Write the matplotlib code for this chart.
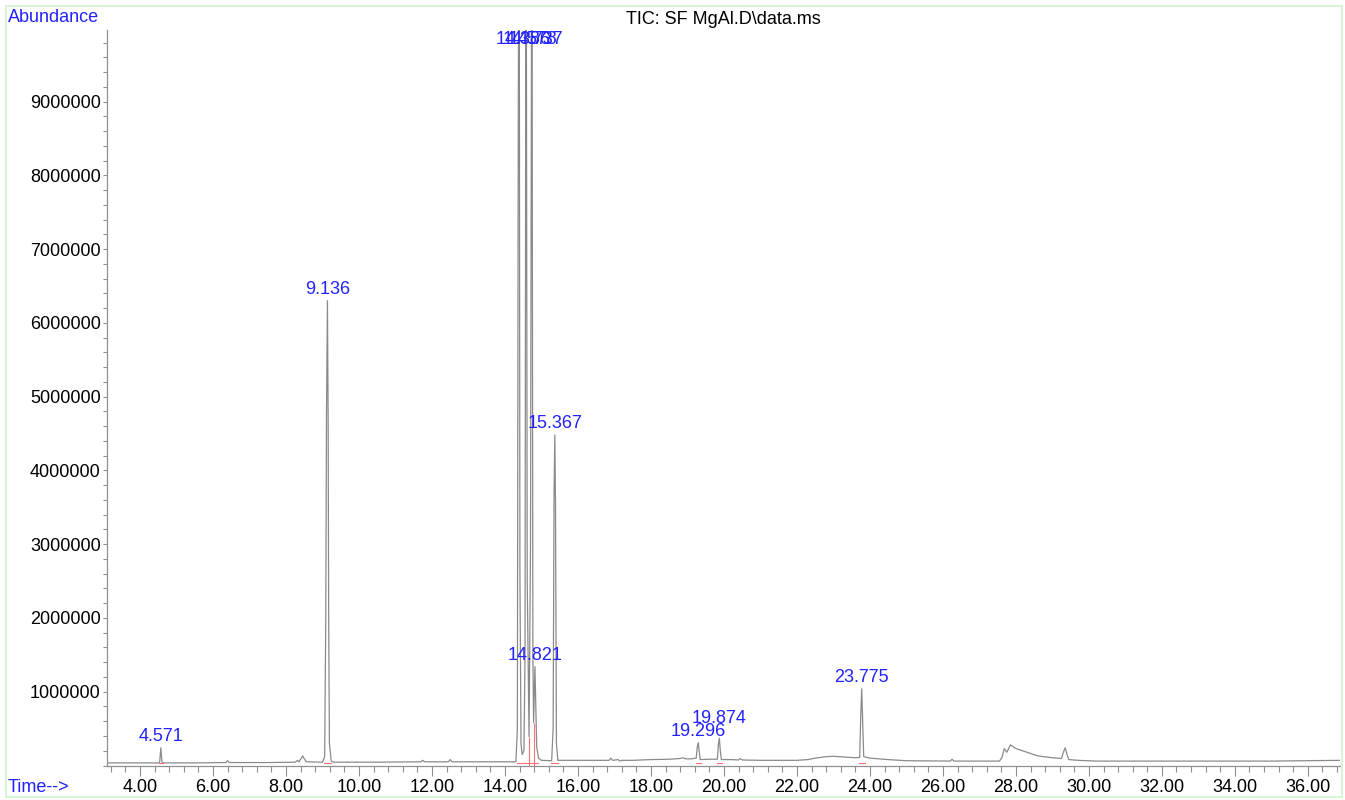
import matplotlib
matplotlib.use("Agg")
import matplotlib.pyplot as plt
from matplotlib.patches import Rectangle
from matplotlib.ticker import MultipleLocator, FixedLocator, FuncFormatter

plt.rcParams['font.family'] = ['Liberation Sans', 'DejaVu Sans']

# TIC trace (minutes, abundance)
times = [3.10, 4.00, 4.50, 4.54, 4.571, 4.60, 4.64, 5.50, 6.35, 6.40, 6.45, 7.50,
         8.25, 8.32, 8.36, 8.42, 8.46, 8.50, 8.56, 9.00, 9.06, 9.09, 9.11, 9.136,
         9.155, 9.17, 9.19, 9.24, 9.30, 10.50, 11.70, 11.75, 11.80, 12.45, 12.50,
         12.55, 13.50, 14.30, 14.34, 14.36, 14.386, 14.41, 14.44, 14.47, 14.52,
         14.55, 14.578, 14.61, 14.66, 14.70, 14.737, 14.765, 14.785, 14.80, 14.821,
         14.84, 14.87, 14.92, 15.00, 15.28, 15.32, 15.345, 15.367, 15.385, 15.41,
         15.45, 16.00, 16.85, 16.90, 16.95, 17.10, 17.15, 17.20, 17.50, 18.00,
         18.50, 18.80, 18.88, 18.95, 19.10, 19.24, 19.27, 19.296, 19.32, 19.35,
         19.60, 19.82, 19.85, 19.874, 19.90, 19.93, 20.20, 20.40, 20.45, 20.50,
         21.00, 21.50, 22.00, 22.30, 22.50, 22.80, 23.00, 23.30, 23.60, 23.72,
         23.75, 23.775, 23.80, 23.83, 24.00, 24.50, 25.00, 26.00, 26.20, 26.25,
         26.30, 27.00, 27.55, 27.62, 27.68, 27.75, 27.85, 28.00, 28.30, 28.60,
         29.00, 29.25, 29.30, 29.35, 29.40, 29.45, 29.70, 30.20, 31.00, 32.00,
         33.00, 34.00, 35.00, 36.00, 36.90]
abundance = [35000, 35000, 35000, 50000, 240000, 50000, 35000, 35000, 40000, 65000,
             40000, 40000, 45000, 70000, 50000, 100000, 130000, 90000, 50000, 45000,
             120000, 2000000, 4750000, 6300000, 4700000, 2000000, 300000, 60000, 45000,
             45000, 50000, 70000, 50000, 50000, 80000, 50000, 50000, 50000, 500000,
             7400000, 13500000, 2600000, 300000, 150000, 200000, 1500000, 13000000,
             2500000, 390000, 3000000, 12500000, 1500000, 580000, 900000, 1340000,
             900000, 250000, 100000, 70000, 65000, 500000, 3700000, 4480000, 3500000,
             300000, 70000, 70000, 70000, 100000, 70000, 80000, 60000, 70000, 70000,
             80000, 85000, 95000, 105000, 90000, 90000, 100000, 250000, 310000, 200000,
             80000, 85000, 85000, 300000, 370000, 200000, 80000, 80000, 75000, 95000,
             75000, 70000, 70000, 70000, 80000, 100000, 120000, 125000, 115000, 105000,
             110000, 700000, 1040000, 600000, 120000, 100000, 80000, 65000, 60000,
             60000, 85000, 60000, 60000, 60000, 110000, 230000, 180000, 280000, 230000,
             180000, 130000, 105000, 95000, 180000, 240000, 150000, 80000, 70000,
             60000, 60000, 60000, 60000, 60000, 60000, 65000, 70000]

# labelled peaks
peak_rt = [4.571, 9.136, 14.386, 14.578, 14.737, 14.821, 15.367, 19.296, 19.874, 23.775]
peak_top = [240000, 6300000, 13500000, 13000000, 12500000, 1340000, 4480000,
            310000, 370000, 1040000]
peak_start = [4.53, 9.05, 14.33, 14.52, 14.66, 14.785, 15.27, 19.23, 19.81, 23.70]
peak_end = [4.63, 9.22, 14.52, 14.66, 14.785, 14.90, 15.44, 19.36, 19.95, 23.86]
drop_rt = [14.66, 14.785]
drop_val = [390000, 580000]

blue = "#2222ff"
fig = plt.figure(figsize=(13.45, 8.0), dpi=100)
ax = fig.add_axes([107/1345, 1-765.5/800, 1233/1345, 735.5/800])
ax.set_xlim(3.096, 36.88)
ax.set_ylim(0, 9.97e6)

ax.plot(times, abundance, color="#8a8a8a", lw=0.9)
for s, e in zip(peak_start, peak_end):
    ax.plot([s, e], [30000, 30000], color="#ff7070", lw=0.8)
ax.vlines(drop_rt, 0, drop_val, color="#ff7070", lw=0.8)

ymax = ax.get_ylim()[1]
for rt, top in zip(peak_rt, peak_top):
    lbl = "%.3f" % rt
    if top > ymax:
        # off-scale peaks: label pinned just under the top of the axes
        ax.annotate(lbl, (rt, 1.0), xycoords=ax.get_xaxis_transform(),
                    xytext=(3, -1), textcoords="offset points",
                    ha="center", va="top", color=blue, fontsize=13)
    else:
        dy = 8 if rt == 19.874 else 2
        ax.annotate(lbl, (rt, top), xytext=(0, dy), textcoords="offset points",
                    ha="center", va="bottom", color=blue, fontsize=13)

for side in ["top", "right"]:
    ax.spines[side].set_visible(False)
for side in ["left", "bottom"]:
    ax.spines[side].set_color("#909090")
    ax.spines[side].set_linewidth(0.9)

ax.xaxis.set_major_locator(MultipleLocator(2))
ax.xaxis.set_minor_locator(MultipleLocator(0.4))
ax.xaxis.set_major_formatter(FuncFormatter(lambda v, p: "%.2f" % v))
ax.yaxis.set_major_locator(FixedLocator([i * 1e6 for i in range(1, 10)]))
ax.yaxis.set_minor_locator(MultipleLocator(2e5))
ax.yaxis.set_major_formatter(FuncFormatter(lambda v, p: "%d" % v))
ax.tick_params(axis="x", which="major", length=7, width=0.8, color="#909090",
               labelsize=13, pad=3)
ax.tick_params(axis="x", which="minor", length=4, width=0.8, color="#909090")
ax.tick_params(axis="y", which="both", length=3, width=0.8, color="#909090",
               labelsize=13, pad=1.5)

fig.text(8/1345, 1-18/800, "Abundance", color=blue, fontsize=13, ha="left", va="center")
fig.text(8/1345, 1-788/800, "Time-->", color=blue, fontsize=13, ha="left", va="center")
fig.text(723/1345, 1-19/800, "TIC: SF MgAl.D\\data.ms", color="black", fontsize=13,
         ha="center", va="center")
fig.patches.append(Rectangle((6/1345, 3/800), 1336/1345, 791/800, transform=fig.transFigure,
                             fill=False, edgecolor="#d0f5d0", lw=1.2))

fig.savefig("out.png", dpi=100)
